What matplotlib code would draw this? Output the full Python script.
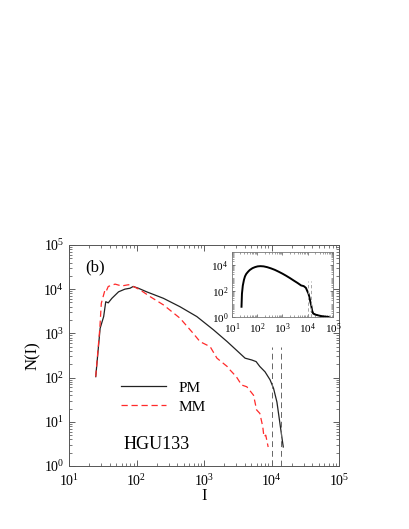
import matplotlib
matplotlib.use("Agg")
import matplotlib.pyplot as plt
from matplotlib.ticker import LogLocator, NullFormatter

plt.rcParams['font.family'] = ['Liberation Serif', 'DejaVu Serif']
plt.rcParams['mathtext.fontset'] = 'stix'

# ---- data ----
pm_I = [24.8, 28.8, 32.5, 34.9, 38, 43, 54, 67, 80, 89, 106, 141, 250, 440, 780, 1380,
        2200, 3000, 4050, 5100, 5900, 6700, 8000, 9500, 10700, 12000, 13500, 14900]
pm_N = [105, 1300, 2400, 5200, 4900, 6200, 8700, 10000, 10500, 11500, 10500, 8700, 6200, 4000,
        2400, 1200, 650, 420, 275, 250, 230, 178, 135, 89, 57, 28, 7.8, 2.7]

mm_I = [24.8, 28.5, 30, 34, 35.5, 38, 48, 60, 76, 95, 113, 158, 250, 440, 690, 870, 1230,
        1550, 2200, 2430, 3000, 3600, 4300, 5400, 6000, 6700, 7400, 7700, 8200, 8900]
mm_N = [105, 1300, 4800, 9600, 9000, 11500, 13000, 11800, 12600, 11000, 9600, 6800, 4400, 2200,
        1000, 650, 500, 275, 178, 148, 105, 68, 62, 40, 18.6, 15.5, 7.8, 4.6, 5, 2.7]

inset_I = [24, 25, 27, 30, 33, 37, 44, 51, 65, 83, 105, 135, 180, 250, 355, 500, 700, 1000,
           1400, 2000, 2800, 4000, 5500, 7000, 8500, 9800, 10800, 11800, 12800, 13800, 15000,
           16600, 20000, 26000, 35000, 50000, 66000]
inset_N = [6, 60, 250, 700, 1300, 2000, 3000, 4000, 5500, 6700, 7600, 7900, 7600, 6600, 5300,
           4100, 3000, 2100, 1450, 950, 620, 400, 260, 230, 170, 90, 60, 30, 14, 8, 3, 1.8,
           1.5, 1.3, 1.15, 1.05, 1.0]

tail_I = [13800, 15000, 17000, 20000, 25000, 32000, 40000]
tail_N = [2.5, 2.2, 1.8, 1.6, 1.35, 1.15, 1.0]

cut_I = [10000, 14000]
cut_top_main = 500
cut_top_inset = 600

# ---- figure ----
fig = plt.figure(figsize=(4.09, 5.29), dpi=100)
ax = fig.add_axes([0.169, 0.119, 0.660, 0.418])

ax.plot(pm_I, pm_N, color='#222222', lw=0.9, label='PM')
ax.plot(mm_I, mm_N, color='#ff2a2a', lw=0.9, ls=(0, (5, 3)), label='MM')
for c in cut_I:
    ax.plot([c, c], [1, cut_top_main], color='#666666', lw=0.7, ls=(0, (6, 4)))

ax.set_xscale('log')
ax.set_yscale('log')
ax.set_xlim(10, 1e5)
ax.set_ylim(1, 1e5)
ax.set_xlabel('I', fontsize=12, labelpad=-1)
ax.set_ylabel('N(I)', fontsize=12, labelpad=2)

ax.xaxis.set_major_locator(LogLocator(base=10, numticks=10))
ax.yaxis.set_major_locator(LogLocator(base=10, numticks=10))
ax.xaxis.set_minor_locator(LogLocator(base=10, subs=range(2, 10), numticks=20))
ax.yaxis.set_minor_locator(LogLocator(base=10, subs=range(2, 10), numticks=20))
ax.xaxis.set_minor_formatter(NullFormatter())
ax.yaxis.set_minor_formatter(NullFormatter())
ax.tick_params(which='both', direction='in', top=True, right=True, labelsize=10, colors='#444444',
               labelcolor='black')
ax.tick_params(which='major', length=4, width=0.6)
ax.tick_params(which='minor', length=2, width=0.5)
ax.tick_params(axis='x', pad=5)
for s in ax.spines.values():
    s.set_color('#555555')
    s.set_linewidth(0.7)

ax.text(0.06, 0.88, '(b)', transform=ax.transAxes, fontsize=12)
ax.text(0.20, 0.075, 'HGU133', transform=ax.transAxes, fontsize=13)
ax.legend(loc='lower left', bbox_to_anchor=(0.14, 0.175), frameon=False, fontsize=11,
          handlelength=3.0, labelspacing=0.35, handletextpad=0.8)

# ---- inset ----
ins = fig.add_axes([0.567, 0.401, 0.247, 0.123])
ins.plot(inset_I, inset_N, color='black', lw=1.4)
ins.plot(tail_I, tail_N, color='black', lw=0.6)
for c in cut_I:
    ins.plot([c, c], [1, cut_top_inset], color='#999999', lw=0.6, ls=(0, (4, 3)))
ins.set_xscale('log')
ins.set_yscale('log')
ins.set_xlim(10, 1e5)
ins.set_ylim(1, 1e5)
ins.xaxis.set_major_locator(LogLocator(base=10, numticks=10))
ins.set_yticks([1, 1e2, 1e4])
ins.xaxis.set_minor_locator(LogLocator(base=10, subs=range(2, 10), numticks=20))
ins.yaxis.set_minor_locator(LogLocator(base=10, subs=range(2, 10), numticks=20))
ins.xaxis.set_minor_formatter(NullFormatter())
ins.yaxis.set_minor_formatter(NullFormatter())
ins.tick_params(which='both', direction='in', top=True, right=True, labelsize=8, colors='#555555',
                labelcolor='black')
ins.tick_params(axis='x', pad=3)
ins.tick_params(axis='y', pad=2.5)
ins.tick_params(which='major', length=2.5, width=0.5)
ins.tick_params(which='minor', length=1.3, width=0.4)
for s in ins.spines.values():
    s.set_color('#777777')
    s.set_linewidth(0.6)

fig.savefig('out.png', dpi=100)
